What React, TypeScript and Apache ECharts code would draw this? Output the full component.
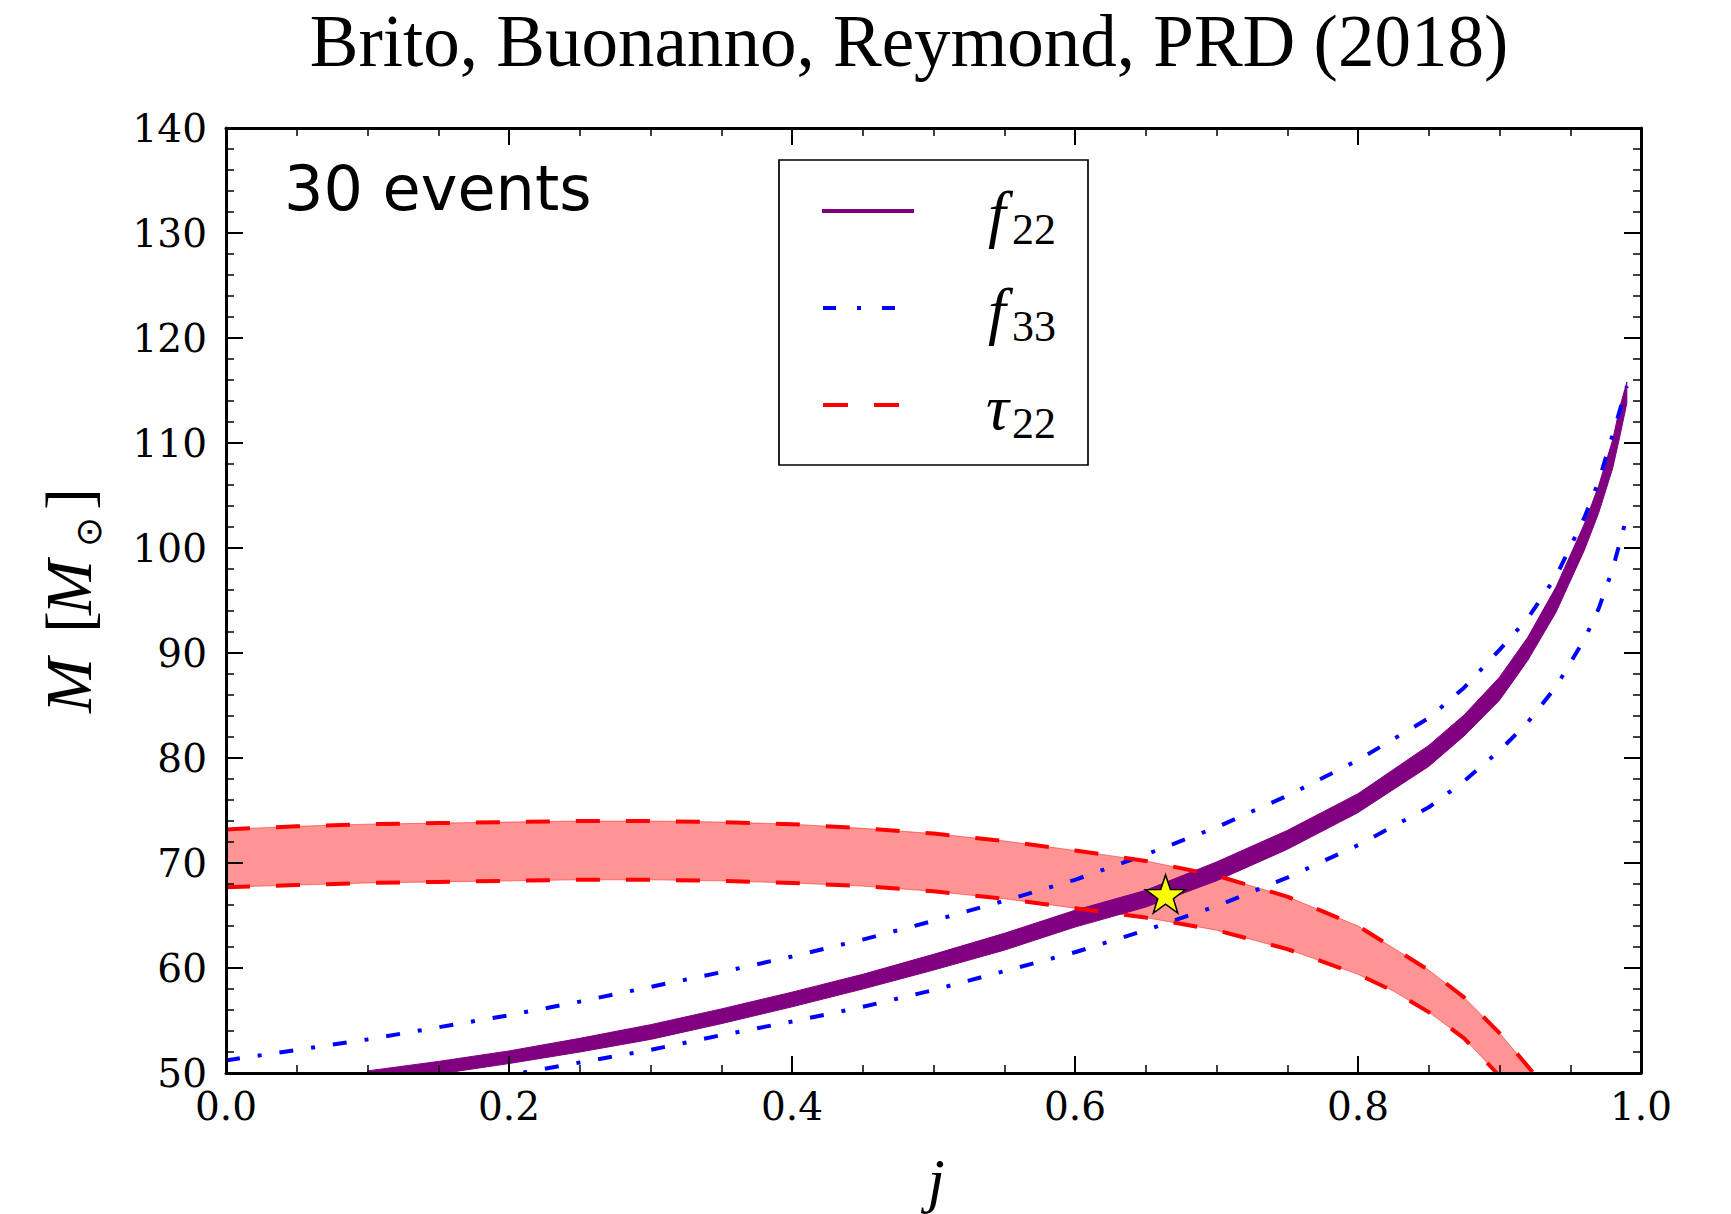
import React, { useEffect, useRef } from "react";
import * as echarts from "echarts";

// ---- data: spin j vs. remnant mass M (solar masses) ----
// f22 band (upper and lower edges)
const jF22 = [0.1, 0.15, 0.2, 0.25, 0.3, 0.35, 0.4, 0.45, 0.5, 0.55, 0.6, 0.65, 0.7, 0.75, 0.8, 0.85, 0.875, 0.9, 0.92, 0.94, 0.96, 0.97, 0.98, 0.985, 0.99];
const f22Upper = [50.2, 51.1, 52.1, 53.3, 54.6, 56.1, 57.7, 59.4, 61.3, 63.3, 65.5, 67.4, 70.1, 73.1, 76.6, 81.2, 84.1, 87.7, 91.5, 96.3, 102.3, 105.9, 110.3, 113.4, 115.8];
const f22Lower = [49.0, 49.9, 50.9, 52.0, 53.2, 54.7, 56.3, 58.0, 59.8, 61.7, 63.9, 65.8, 68.3, 71.3, 74.8, 79.2, 82.1, 85.5, 89.3, 93.9, 99.8, 103.3, 107.6, 110.6, 113.8];

// f33 bounds
const jF33Upper = [0, 0.05, 0.1, 0.15, 0.2, 0.25, 0.3, 0.35, 0.4, 0.45, 0.5, 0.55, 0.6, 0.65, 0.7, 0.75, 0.8, 0.85, 0.875, 0.9, 0.92, 0.94, 0.96, 0.97, 0.98, 0.99];
const f33Upper = [51.2, 52.2, 53.2, 54.35, 55.5, 56.8, 58.2, 59.6, 61.1, 62.7, 64.5, 66.4, 68.4, 70.8, 73.4, 76.4, 79.8, 83.8, 86.7, 90.3, 93.3, 97.3, 102.9, 106.3, 110.8, 115.4];
const jF33Lower = [0.15, 0.2, 0.25, 0.3, 0.35, 0.4, 0.45, 0.5, 0.55, 0.6, 0.65, 0.7, 0.75, 0.8, 0.85, 0.875, 0.9, 0.92, 0.94, 0.96, 0.97, 0.98, 0.99];
const f33Lower = [48.8, 49.8, 51.0, 52.2, 53.6, 54.9, 56.3, 57.9, 59.7, 61.5, 63.6, 65.9, 68.6, 71.7, 75.3, 77.8, 80.7, 83.4, 86.8, 91.3, 94.2, 98.0, 103.0];

// tau22 band
const jTauUpper = [0, 0.05, 0.1, 0.15, 0.2, 0.25, 0.3, 0.35, 0.4, 0.45, 0.5, 0.55, 0.6, 0.65, 0.7, 0.75, 0.8, 0.825, 0.85, 0.875, 0.9, 0.924];
const tauUpper = [73.2, 73.5, 73.7, 73.8, 73.9, 74.0, 74.0, 73.9, 73.7, 73.3, 72.8, 72.1, 71.2, 70.2, 68.8, 66.8, 64.0, 61.9, 59.8, 57.2, 53.8, 50.0];
const jTauLower = [0, 0.05, 0.1, 0.15, 0.2, 0.25, 0.3, 0.35, 0.4, 0.45, 0.5, 0.55, 0.6, 0.65, 0.7, 0.75, 0.8, 0.825, 0.85, 0.875, 0.898];
const tauLower = [67.7, 67.9, 68.1, 68.2, 68.3, 68.4, 68.4, 68.3, 68.1, 67.8, 67.3, 66.6, 65.7, 64.8, 63.6, 61.8, 59.4, 57.8, 55.8, 53.3, 50.0];

// injected remnant (j, M)
const injected = [0.664, 67.05];

const xMin = 0, xMax = 1, xStep = 0.2;
const yMin = 50, yMax = 140, yStep = 10;

const PURPLE = "#800080";
const BLUE = "#0000FF";
const RED = "#FF0000";

const zip = (xs: number[], ys: number[]) => xs.map((x, i) => [x, ys[i]]);

const STAR =
  "path://M50,0 L61.8,35.1 L98.1,35.1 L68.8,56.8 L79.4,91 L50,70 L20.6,91 L31.2,56.8 L1.9,35.1 L38.2,35.1 Z";

function bandSeries(upper: number[][], lower: number[][], fill: string, stroke: string, z: number) {
  const poly = upper.concat(lower.slice().reverse());
  return {
    type: "custom",
    coordinateSystem: "cartesian2d",
    clip: true,
    silent: true,
    z,
    data: [[0.5, 60]],
    renderItem: (_p: any, api: any) => ({
      type: "polygon",
      shape: { points: poly.map((p) => api.coord(p)) },
      style: { fill, stroke, lineWidth: 1 },
    }),
  };
}

function lineSeries(data: number[][], color: string, dash: any, z: number) {
  return {
    type: "line",
    data,
    showSymbol: false,
    smooth: false,
    clip: true,
    silent: true,
    z,
    lineStyle: { color, width: 4, type: dash },
  };
}

const axisCommon = {
  type: "value",
  z: 10,
  splitLine: { show: false },
  minorSplitLine: { show: false },
  axisLine: { show: true, onZero: false, lineStyle: { color: "#000", width: 3 } },
  axisTick: { show: true, inside: true, length: 17, lineStyle: { color: "#000", width: 2 } },
};

export default function App() {
  const ref = useRef<HTMLDivElement>(null);

  useEffect(() => {
    document.body.style.margin = "0";
    const chart = echarts.init(ref.current!, null, { renderer: "svg" });

    const xLabel = {
      fontFamily: "DejaVu Serif",
      fontSize: 39,
      color: "#000",
      margin: 14,
      formatter: (v: number) => v.toFixed(1),
    };
    const yLabel = {
      fontFamily: "DejaVu Serif",
      fontSize: 39,
      color: "#000",
      margin: 19,
      formatter: (v: number) => String(v),
    };

    const serifItalic = { fontFamily: "Liberation Serif", fontStyle: "italic", fill: "#000" };

    const legendX = 779, legendY = 160;
    const rowY = [211, 308, 405];

    chart.setOption({
      animation: false,
      backgroundColor: "#fff",
      grid: { left: 226, top: 128, width: 1415, height: 945, containLabel: false },
      xAxis: [
        {
          ...axisCommon,
          min: xMin, max: xMax, interval: xStep, position: "bottom",
          minorTick: { show: true, splitNumber: 4, length: 8, lineStyle: { color: "#000", width: 1.5 } },
          axisLabel: xLabel,
        },
        {
          ...axisCommon,
          min: xMin, max: xMax, interval: xStep, position: "top",
          minorTick: { show: true, splitNumber: 4, length: 8, lineStyle: { color: "#000", width: 1.5 } },
          axisLabel: { show: false },
        },
      ],
      yAxis: [
        {
          ...axisCommon,
          min: yMin, max: yMax, interval: yStep, position: "left",
          minorTick: { show: true, splitNumber: 5, length: 8, lineStyle: { color: "#000", width: 1.5 } },
          axisLabel: yLabel,
        },
        {
          ...axisCommon,
          min: yMin, max: yMax, interval: yStep, position: "right",
          minorTick: { show: true, splitNumber: 5, length: 8, lineStyle: { color: "#000", width: 1.5 } },
          axisLabel: { show: false },
        },
      ],
      series: [
        bandSeries(zip(jTauUpper, tauUpper), zip(jTauLower, tauLower), "rgba(255,0,0,0.42)", "rgba(255,0,0,0.45)", 1),
        bandSeries(zip(jF22, f22Upper), zip(jF22, f22Lower), PURPLE, PURPLE, 2),
        lineSeries(zip(jF33Upper, f33Upper), BLUE, [14, 18, 4, 18], 3),
        lineSeries(zip(jF33Lower, f33Lower), BLUE, [14, 18, 4, 18], 3),
        lineSeries(zip(jTauUpper, tauUpper), RED, [24, 26], 4),
        lineSeries(zip(jTauLower, tauLower), RED, [24, 26], 4),
        {
          type: "scatter",
          data: [injected],
          symbol: STAR,
          symbolSize: [40, 38],
          z: 6,
          silent: true,
          itemStyle: { color: "#FFFF00", borderColor: "#000", borderWidth: 1.5, opacity: 1 },
        },
      ],
      graphic: [
        {
          type: "text",
          x: 909,
          y: 5,
          style: {
            text: "Brito, Buonanno, Reymond, PRD (2018)",
            fontFamily: "Liberation Serif",
            fontSize: 73,
            fill: "#000",
            align: "center",
            verticalAlign: "top",
          },
        },
        {
          type: "text",
          x: 284,
          y: 188,
          z: 20,
          style: {
            text: "30 events",
            fontFamily: "DejaVu Sans",
            fontSize: 62,
            fill: "#000",
            align: "left",
            verticalAlign: "middle",
          },
        },
        // x-axis title
        {
          type: "text",
          x: 936,
          y: 1180,
          style: { ...serifItalic, text: "j", fontSize: 62, align: "center", verticalAlign: "middle" },
        },
        // y-axis title, reading bottom to top
        {
          type: "group",
          x: 88,
          y: 713,
          rotation: Math.PI / 2,
          children: [
            { type: "text", x: 0, y: -20, style: { ...serifItalic, text: "M", fontSize: 66, align: "left", verticalAlign: "middle" } },
            { type: "text", x: 80, y: -20, style: { fontFamily: "Liberation Serif", fill: "#000", text: "[", fontSize: 66, align: "left", verticalAlign: "middle" } },
            { type: "text", x: 98, y: -20, style: { ...serifItalic, text: "M", fontSize: 66, align: "left", verticalAlign: "middle" } },
            { type: "text", x: 181, y: 0, style: { fontFamily: "DejaVu Sans", fill: "#000", text: "\u2299", fontSize: 36, align: "center", verticalAlign: "middle" } },
            { type: "text", x: 203, y: -20, style: { fontFamily: "Liberation Serif", fill: "#000", text: "]", fontSize: 66, align: "left", verticalAlign: "middle" } },
          ],
        },
        // legend
        {
          type: "group",
          z: 20,
          children: [
            {
              type: "rect",
              shape: { x: legendX, y: legendY, width: 309, height: 305 },
              style: { fill: "#fff", stroke: "#000", lineWidth: 1.7 },
            },
            {
              type: "line",
              shape: { x1: 822, y1: rowY[0], x2: 914, y2: rowY[0] },
              style: { stroke: PURPLE, lineWidth: 4 },
            },
            {
              type: "line",
              shape: { x1: 823, y1: rowY[1], x2: 895, y2: rowY[1] },
              style: { stroke: BLUE, lineWidth: 4, lineDash: [13, 21, 4, 21] },
            },
            {
              type: "line",
              shape: { x1: 823, y1: rowY[2], x2: 900, y2: rowY[2] },
              style: { stroke: RED, lineWidth: 4, lineDash: [25, 26] },
            },
            { type: "text", x: 988, y: rowY[0] + 2, style: { ...serifItalic, text: "f", fontSize: 64, align: "left", verticalAlign: "middle" } },
            { type: "text", x: 1012, y: rowY[0] + 18, style: { fontFamily: "Liberation Serif", fill: "#000", text: "22", fontSize: 44, align: "left", verticalAlign: "middle" } },
            { type: "text", x: 988, y: rowY[1] + 2, style: { ...serifItalic, text: "f", fontSize: 64, align: "left", verticalAlign: "middle" } },
            { type: "text", x: 1012, y: rowY[1] + 18, style: { fontFamily: "Liberation Serif", fill: "#000", text: "33", fontSize: 44, align: "left", verticalAlign: "middle" } },
            { type: "text", x: 986, y: rowY[2] + 2, style: { ...serifItalic, text: "\u03C4", fontSize: 64, align: "left", verticalAlign: "middle" } },
            { type: "text", x: 1012, y: rowY[2] + 18, style: { fontFamily: "Liberation Serif", fill: "#000", text: "22", fontSize: 44, align: "left", verticalAlign: "middle" } },
          ],
        },
      ],
    });

    return () => chart.dispose();
  }, []);

  return <div ref={ref} style={{ width: 1731, height: 1214 }} />;
}
